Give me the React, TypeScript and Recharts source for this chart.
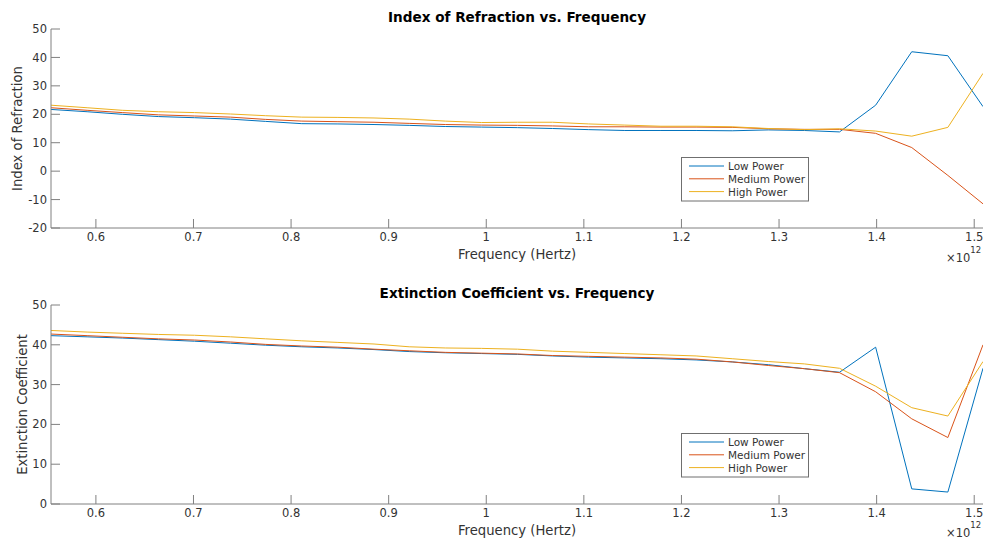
import React from 'react';
import { LineChart, Line, XAxis, YAxis } from 'recharts';

// Frequency (x 10^12 Hz)
const frequency = [
  0.554, 0.591, 0.627, 0.664, 0.701, 0.738, 0.774, 0.811, 0.848, 0.885, 0.921, 0.958, 0.995,
  1.032, 1.068, 1.105, 1.142, 1.179, 1.215, 1.252, 1.289, 1.326, 1.362, 1.399, 1.436, 1.473, 1.509,
];

const seriesNames = ['Low Power', 'Medium Power', 'High Power'];
const seriesColors = ['#0072BD', '#D95319', '#EDB120'];

const refractionLow = [
  21.7, 20.9, 20.0, 19.2, 18.8, 18.3, 17.5, 16.7, 16.6, 16.4, 16.1, 15.7, 15.5,
  15.3, 15.0, 14.6, 14.3, 14.3, 14.3, 14.2, 14.5, 14.3, 13.8, 23.2, 42.0, 40.6, 22.7,
];
const refractionMedium = [
  22.3, 21.4, 20.6, 19.8, 19.4, 19.0, 18.2, 17.6, 17.4, 17.2, 16.8, 16.4, 16.2,
  16.1, 15.9, 15.6, 15.6, 15.5, 15.5, 15.4, 14.9, 14.7, 14.7, 13.3, 8.3, -1.5, -11.5,
];
const refractionHigh = [
  23.2, 22.3, 21.4, 20.9, 20.6, 20.1, 19.5, 19.0, 18.9, 18.7, 18.3, 17.6, 17.1,
  17.2, 17.2, 16.6, 16.2, 15.8, 15.8, 15.6, 15.0, 14.6, 14.9, 14.1, 12.3, 15.4, 34.4,
];

const extinctionLow = [
  42.3, 42.0, 41.7, 41.3, 40.9, 40.4, 39.9, 39.5, 39.2, 38.8, 38.3, 38.0, 37.8,
  37.6, 37.2, 36.9, 36.7, 36.5, 36.2, 35.7, 35.0, 34.0, 33.1, 39.4, 3.8, 3.0, 34.1,
];
const extinctionMedium = [
  42.7, 42.3, 41.9, 41.5, 41.2, 40.7, 40.1, 39.7, 39.4, 38.9, 38.5, 38.1, 37.9,
  37.7, 37.3, 37.1, 36.9, 36.7, 36.4, 35.7, 34.8, 34.0, 33.0, 28.2, 21.4, 16.7, 40.0,
];
const extinctionHigh = [
  43.6, 43.2, 42.9, 42.6, 42.4, 42.0, 41.5, 41.0, 40.6, 40.2, 39.5, 39.2, 39.1,
  38.9, 38.4, 38.1, 37.8, 37.5, 37.2, 36.5, 35.8, 35.2, 34.1, 29.6, 24.2, 22.1, 35.8,
];

const xTicks = [0.6, 0.7, 0.8, 0.9, 1, 1.1, 1.2, 1.3, 1.4, 1.5];
const refractionTicks = [-20, -10, 0, 10, 20, 30, 40, 50];
const extinctionTicks = [0, 10, 20, 30, 40, 50];

const keys = ['low', 'medium', 'high'];

function buildData(a: number[], b: number[], c: number[]) {
  return frequency.map((f, i) => ({ f, low: a[i], medium: b[i], high: c[i] }));
}

const refractionData = buildData(refractionLow, refractionMedium, refractionHigh);
const extinctionData = buildData(extinctionLow, extinctionMedium, extinctionHigh);

const AXIS = '#808080';
const TEXT = '#333333';
const FONT = '"DejaVu Sans", sans-serif';

const noTick = () => <g />;

function fmtX(v: number) {
  return Number.isInteger(v) ? String(v) : v.toFixed(1);
}

type PanelProps = {
  top: number;
  title: string;
  yLabel: string;
  yLabelX: number;
  expY: number;
  data: any[];
  yDomain: [number, number];
  yTicks: number[];
};

function Panel({ top, title, yLabel, yLabelX, expY, data, yDomain, yTicks }: PanelProps) {
  const xDomain: [number, number] = [frequency[0], frequency[frequency.length - 1]];
  return (
    <div style={{ position: 'absolute', left: 0, top, width: 983, height: 276 }}>
      <LineChart width={983} height={276} data={data} margin={{ top: 29, right: 0, bottom: 0, left: 0 }}>
        <XAxis
          xAxisId="b"
          dataKey="f"
          type="number"
          domain={xDomain}
          allowDataOverflow
          ticks={xTicks}
          interval={0}
          height={48}
          tickSize={-9}
          tickMargin={14}
          stroke={AXIS}
          tickFormatter={fmtX}
          tick={{ fill: TEXT, fontSize: 11.5 }}
          label={{
            content: (p: any) => {
              const vb = p.viewBox || { x: 51, y: 228, width: 932 };
              return (
                <text x={vb.x + vb.width / 2} y={vb.y + 30.5} textAnchor="middle" fontSize={13.2} fill={TEXT}>
                  Frequency (Hertz)
                </text>
              );
            },
          }}
        />
        <XAxis
          xAxisId="t"
          orientation="top"
          type="number"
          domain={xDomain}
          allowDataOverflow
          ticks={xTicks}
          interval={0}
          height={0}
          tickSize={-9}
          stroke={AXIS}
          tick={noTick}
        />
        <YAxis
          yAxisId="l"
          type="number"
          domain={yDomain}
          allowDataOverflow
          ticks={yTicks}
          interval={0}
          width={51}
          tickSize={-9}
          tickMargin={13}
          stroke={AXIS}
          tick={{ fill: TEXT, fontSize: 11.5 }}
          label={{
            content: (p: any) => {
              const vb = p.viewBox || { x: 0, y: 29, height: 199 };
              const cy = vb.y + vb.height / 2;
              return (
                <text
                  x={yLabelX}
                  y={cy}
                  textAnchor="middle"
                  fontSize={13.2}
                  fill={TEXT}
                  transform={`rotate(-90, ${yLabelX}, ${cy})`}
                >
                  {yLabel}
                </text>
              );
            },
          }}
        />
        <YAxis
          yAxisId="r"
          orientation="right"
          type="number"
          domain={yDomain}
          allowDataOverflow
          ticks={yTicks}
          interval={0}
          width={0}
          tickSize={-9}
          stroke={AXIS}
          tick={noTick}
        />
        {keys.map((k, i) => (
          <Line
            key={k}
            xAxisId="b"
            yAxisId="l"
            type="linear"
            dataKey={k}
            name={seriesNames[i]}
            stroke={seriesColors[i]}
            strokeWidth={1}
            dot={false}
            activeDot={false}
            isAnimationActive={false}
          />
        ))}
      </LineChart>
      <svg
        width={983}
        height={276}
        style={{ position: 'absolute', left: 0, top: 0, pointerEvents: 'none' }}
      >
        <text x={517} y={21.8} textAnchor="middle" fontSize={13.6} fontWeight="bold" fill="#000">
          {title}
        </text>
        <text x={946} y={expY} fontSize={11.5} fill={TEXT}>
          ×10
          <tspan dy={-9} fontSize={8.5}>12</tspan>
        </text>
        <g transform="translate(681.5,157.5)">
          <rect x={0} y={0} width={127} height={43.5} fill="#fff" stroke="#6f6f6f" strokeWidth={1} />
          {seriesNames.map((n, i) => {
            const cy = 8.5 + i * 12.8;
            return (
              <g key={n}>
                <line x1={7.5} x2={42.5} y1={cy} y2={cy} stroke={seriesColors[i]} strokeWidth={1} />
                <text x={46.5} y={cy + 4} fontSize={10.5} fill={TEXT}>
                  {n}
                </text>
              </g>
            );
          })}
        </g>
      </svg>
    </div>
  );
}

export default function App() {
  return (
    <div
      style={{
        position: 'absolute',
        left: 0,
        top: 0,
        width: 983,
        height: 538,
        overflow: 'hidden',
        background: '#fff',
        fontFamily: FONT,
      }}
    >
      <Panel
        top={0}
        title="Index of Refraction vs. Frequency"
        yLabel="Index of Refraction"
        yLabelX={21.5}
        expY={262}
        data={refractionData}
        yDomain={[-20, 50]}
        yTicks={refractionTicks}
      />
      <Panel
        top={276}
        title="Extinction Coefficient vs. Frequency"
        yLabel="Extinction Coefficient"
        yLabelX={26.5}
        expY={260.5}
        data={extinctionData}
        yDomain={[0, 50]}
        yTicks={extinctionTicks}
      />
    </div>
  );
}
